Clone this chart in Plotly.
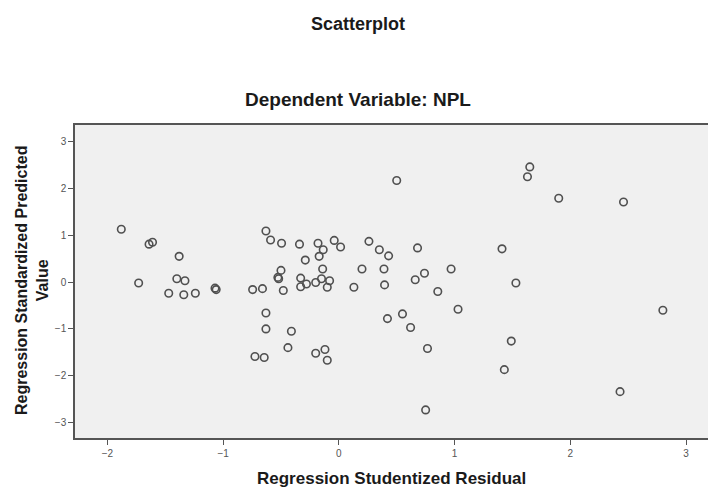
import plotly.graph_objects as go

residual = [-1.88, -1.64, -1.61, -1.38, -1.73, -1.40, -1.33, -1.47, -1.34, -1.24,
            -1.07, -1.06, -0.745, -0.66, -0.63, -0.59, -0.495, -0.34, -0.18, -0.135,
            -0.17, -0.04, 0.015, -0.29, 0.26, 0.35, 0.43, 0.68, -0.50, -0.527,
            -0.52, -0.33, -0.14, -0.15, -0.08, 0.20, 0.39, -0.48, -0.33, -0.28,
            -0.20, -0.10, 0.13, 0.395, 0.66, 0.74, 0.855, 0.50, -0.63, -0.63,
            -0.41, -0.44, -0.725, -0.645, -0.20, -0.12, -0.10, 0.42, 0.55, 0.62,
            0.766, 0.75, 1.65, 1.63, 1.90, 2.46, 1.41, 0.97, 1.53, 1.03,
            1.49, 1.43, 2.43, 2.80]
predicted = [1.13, 0.81, 0.85, 0.55, -0.02, 0.07, 0.03, -0.24, -0.27, -0.24,
             -0.13, -0.16, -0.16, -0.14, 1.09, 0.90, 0.83, 0.81, 0.83, 0.69,
             0.55, 0.89, 0.75, 0.47, 0.87, 0.69, 0.56, 0.73, 0.25, 0.10,
             0.07, 0.085, 0.28, 0.07, 0.03, 0.28, 0.28, -0.18, -0.10, -0.04,
             -0.01, -0.11, -0.11, -0.06, 0.05, 0.19, -0.20, 2.17, -0.66, -1.00,
             -1.05, -1.40, -1.59, -1.61, -1.52, -1.44, -1.67, -0.78, -0.68, -0.97,
             -1.42, -2.73, 2.46, 2.25, 1.79, 1.71, 0.71, 0.28, -0.02, -0.58,
             -1.26, -1.87, -2.34, -0.60]
tick_vals = [-3, -2, -1, 0, 1, 2, 3]

W, H = 708, 487
L, R, T, B = 75, 0, 125, 49

def px(xpix):
    return (xpix - L) / (W - L - R)

def py(ypix):
    return 1 - (ypix - T) / (H - T - B)

font_family = "Liberation Sans, Arial, sans-serif"

fig = go.Figure(go.Scatter(
    x=residual, y=predicted, mode="markers",
    marker=dict(symbol="circle-open", size=7.5, color="#505050",
                line=dict(width=1.6, color="#505050")),
    hoverinfo="x+y"))

axis_common = dict(showgrid=False, zeroline=False, showline=True,
                   linecolor="#555555", linewidth=1.5, ticks="outside",
                   ticklen=5, tickcolor="#555555", tickwidth=1.2,
                   tickvals=tick_vals, tickfont=dict(size=10, color="#555555",
                                                     family=font_family))

def ann(text, x, y, size, angle=0):
    return dict(text=text, xref="paper", yref="paper", x=px(x), y=py(y),
                xanchor="center", yanchor="middle", showarrow=False,
                textangle=angle,
                font=dict(size=size, color="#1a1a1a", family=font_family))

fig.update_layout(
    width=W, height=H,
    margin=dict(l=L, r=R, t=T, b=B),
    paper_bgcolor="white", plot_bgcolor="#f0f0f0",
    showlegend=False,
    font=dict(family=font_family),
    xaxis=dict(range=[-2.28, 3.19], mirror=True, **axis_common),
    yaxis=dict(range=[-3.33, 3.355], mirror=False, **axis_common),
    annotations=[
        ann("<b>Scatterplot</b>", 358, 24, 18),
        ann("<b>Dependent Variable: NPL</b>", 358, 99, 19),
        ann("<b>Regression Studentized Residual</b>", 391, 478, 17),
        ann("<b>Regression Standardized Predicted<br>Value</b>", 32, 281, 16, -90),
    ],
)

fig.write_html("out.html", config={"displayModeBar": False},
               post_script="document.body.style.margin='0';")
